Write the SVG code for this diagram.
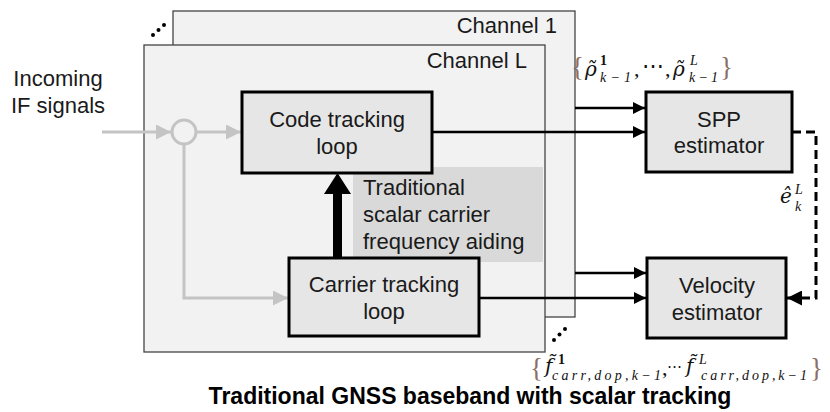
<svg xmlns="http://www.w3.org/2000/svg" width="830" height="412" viewBox="0 0 830 412">
  <defs>
    <marker id="arrBlack" viewBox="0 0 10 10" refX="10" refY="5" markerWidth="5" markerHeight="5" markerUnits="strokeWidth" orient="auto">
      <path d="M0,0 L10,5 L0,10 z" fill="#000"/>
    </marker>
    <marker id="arrGray" viewBox="0 0 10 10" refX="10" refY="5" markerWidth="5" markerHeight="5" markerUnits="strokeWidth" orient="auto">
      <path d="M0,0 L10,5 L0,10 z" fill="#c4c4c4"/>
    </marker>
    <style>
      .chan { fill: #f2f2f2; stroke: #444; stroke-width: 1.3; }
      .node { fill: #e6e6e6; stroke: #000; stroke-width: 3; }
      .lbl { font-family: "Liberation Sans", Arial, sans-serif; font-size: 22px; fill: #1a1a1a; }
      .mid { text-anchor: middle; }
      .end { text-anchor: end; }
      .title { font-family: "Liberation Sans", Arial, sans-serif; font-size: 23px; font-weight: bold; fill: #000; text-anchor: middle; }
      .math { font-family: "Liberation Serif", "DejaVu Serif", serif; font-style: italic; fill: #111; }
      .sym { font-family: "DejaVu Serif", serif; font-style: italic; font-size: 20px; fill: #111; }
      .up { font-style: normal; }
      .m { font-size: 22px; }
      .s { font-size: 14px; }
      .brace { font-family: "Liberation Serif", "DejaVu Serif", serif; font-size: 27px; fill: #8a6f64; }
      .gray { fill: none; stroke: #c4c4c4; stroke-width: 3; }
      .blk { fill: none; stroke: #000; stroke-width: 2.5; }
      .dot { fill: #000; }
    </style>
  </defs>

  <!-- stacked channel frames -->
  <g id="channel-1">
    <rect class="chan" x="173" y="11" width="402" height="306"/>
    <text class="lbl end" x="557" y="33">Channel 1</text>
  </g>
  <g id="channel-L">
    <rect class="chan" x="144" y="45" width="401" height="307"/>
    <text class="lbl end" x="527" y="68">Channel L</text>
  </g>

  <!-- ellipsis dots for further channels -->
  <g id="dots">
    <circle class="dot" cx="153" cy="35" r="2"/>
    <circle class="dot" cx="158.5" cy="30" r="2"/>
    <circle class="dot" cx="164" cy="25" r="2"/>
    <circle class="dot" cx="554" cy="340" r="2"/>
    <circle class="dot" cx="559.5" cy="334.5" r="2"/>
    <circle class="dot" cx="565" cy="329" r="2"/>
  </g>

  <!-- aiding label background -->
  <g id="aiding-label">
    <rect x="353" y="167" width="190" height="95" fill="#d9d9d9"/>
    <text class="lbl" x="363" y="195">Traditional</text>
    <text class="lbl" x="363" y="222">scalar carrier</text>
    <text class="lbl" x="363" y="249">frequency aiding</text>
  </g>

  <g id="input-label">
    <text class="lbl mid" x="58" y="86">Incoming</text>
    <text class="lbl mid" x="58" y="113">IF signals</text>
  </g>

  <g id="connectors">
    <!-- incoming signal path -->
    <line class="gray" x1="102" y1="132" x2="171" y2="132" marker-end="url(#arrGray)"/>
    <circle cx="184" cy="132" r="12" fill="none" stroke="#c4c4c4" stroke-width="3"/>
    <line class="gray" x1="196" y1="132" x2="241" y2="132" marker-end="url(#arrGray)"/>
    <polyline class="gray" points="184,144 184,298 288,298" marker-end="url(#arrGray)"/>

    <!-- carrier aiding -->
    <rect x="333" y="192" width="9" height="66" fill="#000"/>
    <path d="M324,194 L337.5,173 L351,194 z" fill="#000"/>

    <!-- outputs to estimators -->
    <line class="blk" x1="575" y1="108" x2="645" y2="108" marker-end="url(#arrBlack)"/>
    <line class="blk" x1="432" y1="132" x2="645" y2="132" marker-end="url(#arrBlack)"/>
    <line class="blk" x1="575" y1="273" x2="646" y2="273" marker-end="url(#arrBlack)"/>
    <line class="blk" x1="479" y1="298" x2="646" y2="298" marker-end="url(#arrBlack)"/>

    <!-- error feedback -->
    <polyline points="792,132 816,132 816,298 787,298" fill="none" stroke="#000" stroke-width="3" stroke-dasharray="9,5" marker-end="url(#arrBlack)"/>
  </g>

  <g id="code-tracking">
    <rect class="node" x="242" y="92" width="190" height="81"/>
    <text class="lbl mid" x="337" y="127">Code tracking</text>
    <text class="lbl mid" x="337" y="154">loop</text>
  </g>

  <g id="carrier-tracking">
    <rect class="node" x="289" y="258" width="190" height="78"/>
    <text class="lbl mid" x="384" y="292">Carrier tracking</text>
    <text class="lbl mid" x="384" y="319">loop</text>
  </g>

  <g id="spp-estimator">
    <rect class="node" x="646" y="92" width="146" height="80"/>
    <text class="lbl mid" x="719" y="127">SPP</text>
    <text class="lbl mid" x="719" y="153">estimator</text>
  </g>

  <g id="velocity-estimator">
    <rect class="node" x="647" y="258" width="139" height="80"/>
    <text class="lbl mid" x="717" y="293">Velocity</text>
    <text class="lbl mid" x="717" y="320">estimator</text>
  </g>

  <!-- pseudorange set -->
  <g id="pseudorange-label">
    <text class="brace" x="571" y="76">{</text>
    <text class="sym" x="585" y="76">ρ̃</text>
    <text class="math s up" x="600" y="65" font-size="13" font-weight="bold">1</text>
    <text class="math s" x="600" y="82" textLength="31" lengthAdjust="spacing">k−1</text>
    <text class="math m up" x="634" y="76">,</text>
    <text class="math m up" x="642" y="73">⋯</text>
    <text class="math m up" x="665" y="76">,</text>
    <text class="sym" x="673" y="76">ρ̃</text>
    <text class="math s" x="690" y="65" font-size="13">L</text>
    <text class="math s" x="689" y="82" textLength="29" lengthAdjust="spacing">k−1</text>
    <text class="brace" x="720" y="76">}</text>
  </g>

  <!-- carrier Doppler set -->
  <g id="doppler-label">
    <text class="brace" x="530" y="377">{</text>
    <text class="sym" x="545" y="373">f̃</text>
    <text class="math s up" x="558" y="364" font-size="13" font-weight="bold">1</text>
    <text class="math s" x="552" y="380" font-size="17" textLength="109" lengthAdjust="spacing">carr,dop,k−1</text>
    <text class="math m up" x="662" y="375">,</text>
    <text class="math up" x="667" y="371" font-size="15">⋯</text>
    <text class="sym" x="686" y="373">f̃</text>
    <text class="math s" x="699" y="364" font-size="13">L</text>
    <text class="math s" x="701" y="380" font-size="17" textLength="106" lengthAdjust="spacing">carr,dop,k−1</text>
    <text class="brace" x="810" y="377">}</text>
  </g>

  <!-- estimated clock error -->
  <g id="error-label">
    <text class="sym" x="780" y="203">ê</text>
    <text class="math s" x="795" y="194" font-size="12">L</text>
    <text class="math s" x="795" y="211" font-size="12">k</text>
  </g>

  <text class="title" x="470" y="404">Traditional GNSS baseband with scalar tracking</text>
</svg>
